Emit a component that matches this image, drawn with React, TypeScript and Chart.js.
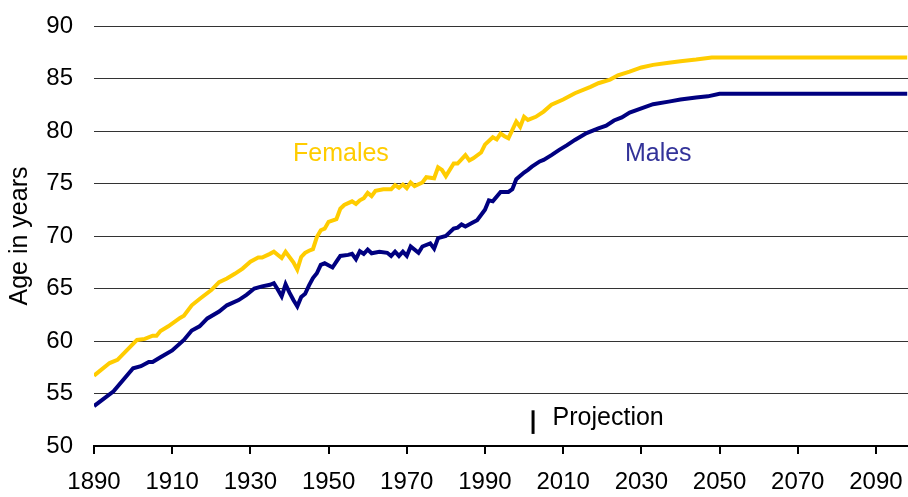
import React, { useEffect, useRef } from "react";
import { Chart, registerables } from "chart.js";

Chart.register(...registerables);

const femaleYears = [
  1890, 1894, 1896, 1901, 1903, 1905, 1906, 1907, 1909, 1912, 1913, 1915, 1917, 1920, 1922, 1924, 1926, 1928, 1930,
  1932, 1933, 1935, 1936, 1938, 1939, 1941, 1942, 1943, 1944, 1945, 1946, 1947, 1948, 1949, 1950, 1952, 1953, 1954,
  1956, 1957, 1958, 1959, 1960, 1961, 1962, 1964, 1966, 1967, 1968, 1969, 1970, 1971, 1972, 1974, 1975, 1977, 1978,
  1979, 1980, 1982, 1983, 1985, 1986, 1987, 1989, 1990, 1992, 1993, 1994, 1995, 1996, 1998, 1999, 2000, 2001, 2003,
  2005, 2007, 2010, 2013, 2017, 2019, 2022, 2024, 2027, 2030, 2033, 2037, 2040, 2044, 2048, 2098,
];
const femaleValues = [
  56.7, 57.9, 58.2, 60.1, 60.2, 60.5, 60.5, 60.95, 61.4, 62.2, 62.4, 63.4, 64.0, 64.85, 65.6, 65.95, 66.4, 66.9, 67.55,
  67.95, 67.95, 68.3, 68.5, 67.9, 68.5, 67.5, 66.8, 68.0, 68.4, 68.6, 68.75, 69.9, 70.55, 70.7, 71.35, 71.6, 72.6, 72.95,
  73.3, 73.05, 73.4, 73.6, 74.1, 73.8, 74.3, 74.45, 74.45, 74.85, 74.6, 74.9, 74.55, 75.1, 74.75, 75.1, 75.6, 75.5, 76.55,
  76.3, 75.7, 76.9, 76.9, 77.7, 77.2, 77.4, 77.95, 78.7, 79.4, 79.2, 79.75, 79.5, 79.3, 80.9, 80.4, 81.35, 81.05, 81.35,
  81.85, 82.5, 83.0, 83.6, 84.2, 84.55, 84.9, 85.3, 85.65, 86.05, 86.3, 86.5, 86.65, 86.8, 87.0, 87.0,
];

const maleYears = [
  1890, 1895, 1900, 1902, 1904, 1905, 1907, 1910, 1913, 1915, 1917, 1919, 1922, 1924, 1927, 1929, 1931, 1933, 1935,
  1936, 1937, 1938, 1939, 1940, 1941, 1942, 1943, 1944, 1945, 1946, 1947, 1948, 1949, 1951, 1952, 1953, 1955, 1956,
  1957, 1958, 1959, 1960, 1961, 1963, 1965, 1966, 1967, 1968, 1969, 1970, 1971, 1973, 1974, 1976, 1977, 1978, 1980,
  1982, 1983, 1984, 1985, 1987, 1988, 1990, 1991, 1992, 1994, 1996, 1997, 1998, 2000, 2001, 2002, 2004, 2005, 2007,
  2009, 2011, 2013, 2016, 2019, 2021, 2023, 2025, 2027, 2030, 2033, 2037, 2040, 2044, 2047, 2050, 2098,
];
const maleValues = [
  53.8, 55.2, 57.4, 57.6, 58.0, 58.0, 58.45, 59.1, 60.1, 61.0, 61.4, 62.15, 62.8, 63.4, 63.9, 64.4, 65.0, 65.2, 65.35,
  65.5, 64.9, 64.25, 65.4, 64.6, 63.9, 63.3, 64.2, 64.5, 65.3, 66.0, 66.45, 67.25, 67.4, 67.0, 67.55, 68.1, 68.2, 68.3,
  67.8, 68.55, 68.3, 68.7, 68.35, 68.5, 68.4, 68.1, 68.5, 68.1, 68.5, 68.1, 69.0, 68.4, 69.0, 69.3, 68.8, 69.8, 70.0,
  70.7, 70.8, 71.1, 70.9, 71.3, 71.5, 72.5, 73.4, 73.3, 74.2, 74.2, 74.45, 75.4, 76.05, 76.3, 76.6, 77.1, 77.25, 77.7,
  78.2, 78.65, 79.15, 79.8, 80.25, 80.5, 81.0, 81.3, 81.75, 82.15, 82.55, 82.8, 83.0, 83.2, 83.3, 83.55, 83.55,
];

const xTickYears = [1890, 1910, 1930, 1950, 1970, 1990, 2010, 2030, 2050, 2070, 2090];
const xMin = 1890;
const xMax = 2098.2;
const yMin = 50;
const yMax = 90;
const yStep = 5;

const projectionYears = [2002.3, 2002.3];
const projectionValues = [51.15, 53.4];

const annotationTexts = ["Females", "Males", "Projection"];
const annotationYears = [1940.9, 2025.8, 2007.3];
const annotationValues = [77.8, 77.8, 52.7];
const annotationColors = ["#FFCC00", "#333399", "#000000"];

const FONT = '"Liberation Sans", Arial, sans-serif';

const textPlugin = {
  id: "textLabels",
  afterDatasetsDraw(chart: any) {
    const { ctx, scales } = chart;
    ctx.save();
    ctx.font = `25px ${FONT}`;
    ctx.textAlign = "left";
    ctx.textBaseline = "middle";
    annotationTexts.forEach((t, i) => {
      ctx.fillStyle = annotationColors[i];
      ctx.fillText(t, scales.x.getPixelForValue(annotationYears[i]), scales.y.getPixelForValue(annotationValues[i]));
    });
    ctx.restore();
  },
};

export default function App() {
  const ref = useRef<HTMLCanvasElement | null>(null);

  useEffect(() => {
    if (!ref.current) return;
    const chart = new Chart(ref.current, {
      type: "line",
      data: {
        datasets: [
          {
            label: "Females",
            data: femaleYears.map((x, i) => ({ x, y: femaleValues[i] })),
            borderColor: "#FFCC00",
            borderWidth: 4,
            pointRadius: 0,
            tension: 0,
            fill: false,
          },
          {
            label: "Males",
            data: maleYears.map((x, i) => ({ x, y: maleValues[i] })),
            borderColor: "#000080",
            borderWidth: 4,
            pointRadius: 0,
            tension: 0,
            fill: false,
          },
          {
            label: "Projection",
            data: projectionYears.map((x, i) => ({ x, y: projectionValues[i] })),
            borderColor: "#000000",
            borderWidth: 3,
            pointRadius: 0,
            fill: false,
          },
        ],
      },
      options: {
        animation: false,
        responsive: false,
        layout: { padding: { top: 26, right: 0, left: 0, bottom: 0 } },
        plugins: {
          legend: { display: false },
          tooltip: { enabled: false },
        },
        scales: {
          x: {
            type: "linear",
            min: xMin,
            max: xMax,
            afterBuildTicks: (scale: any) => {
              scale.ticks = xTickYears.map((v) => ({ value: v }));
            },
            afterFit: (scale: any) => {
              scale.height = 51;
              scale.paddingLeft = 0;
              scale.paddingRight = 0;
            },
            ticks: {
              callback: (v: any) => String(v),
              font: { family: FONT, size: 24 },
              color: "#000000",
              padding: 14,
              maxRotation: 0,
              autoSkip: false,
            },
            grid: {
              drawOnChartArea: false,
              drawTicks: true,
              tickLength: 8,
              color: "#000000",
              lineWidth: 2,
            },
            border: { display: true, color: "#000000", width: 2 },
          },
          y: {
            type: "linear",
            min: yMin,
            max: yMax,
            ticks: {
              stepSize: yStep,
              font: { family: FONT, size: 24 },
              color: "#000000",
              padding: 21,
            },
            afterFit: (scale: any) => {
              scale.width = 94;
              scale.paddingTop = 0;
              scale.paddingBottom = 0;
            },
            grid: {
              drawTicks: false,
              color: "#333333",
              lineWidth: 1,
            },
            border: { display: false },
            title: {
              display: true,
              text: "Age in years",
              font: { family: FONT, size: 25 },
              color: "#000000",
              padding: { top: 5, bottom: 0 },
            },
          },
        },
      },
      plugins: [textPlugin],
    });
    return () => chart.destroy();
  }, []);

  return (
    <div style={{ position: "absolute", left: 0, top: 0, width: 908, height: 497 }}>
      <canvas ref={ref} width={908} height={497} style={{ display: "block" }} />
    </div>
  );
}
